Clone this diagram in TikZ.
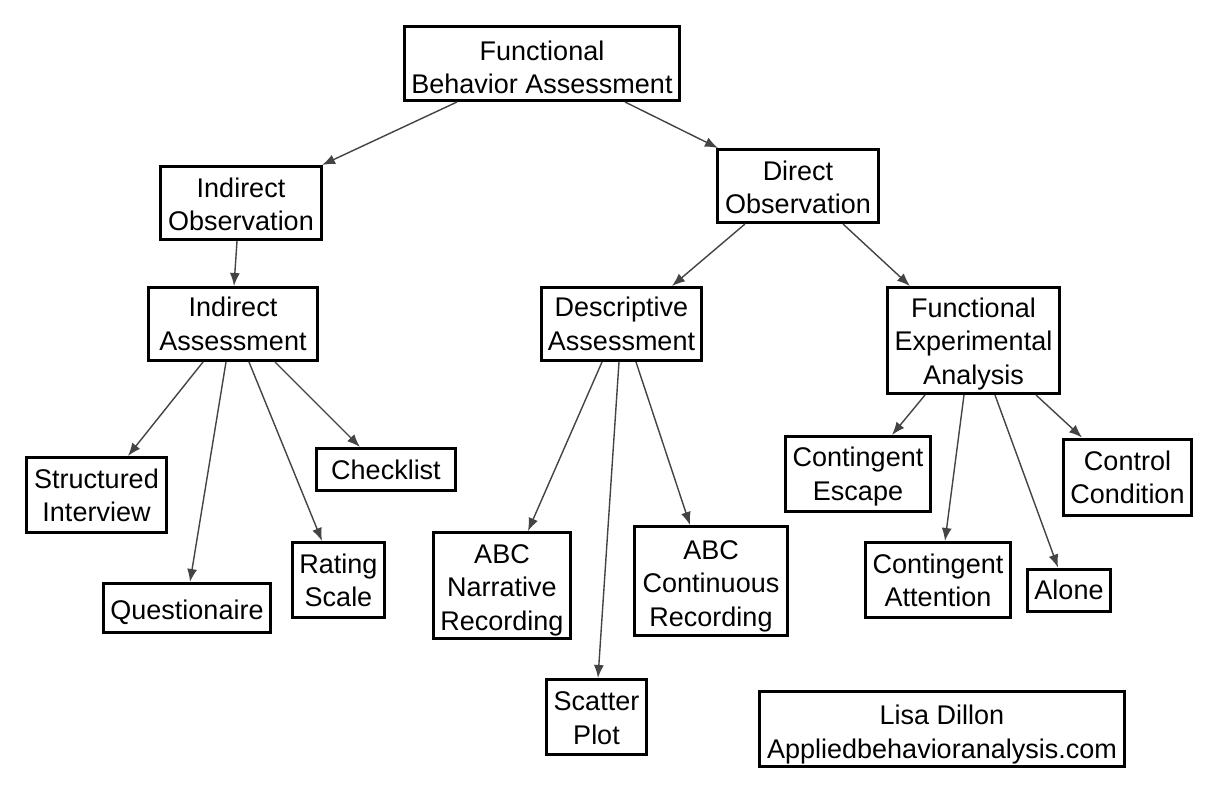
\documentclass[tikz,border=0pt]{standalone}
\usepackage{fontspec}
\setmainfont{Liberation Sans}
\usetikzlibrary{arrows.meta}
\definecolor{arrowgray}{HTML}{444444}
\newcommand\boxtext[2]{\smash{\raisebox{#1pt}{\begin{tabular}[b]{@{}c@{}}#2\end{tabular}}}}
\begin{document}
\begin{tikzpicture}[x=1pt,y=-1pt,
  box/.style={draw=black,line width=3pt,fill=white,inner sep=0pt,
    font=\fontsize{27}{33.3}\selectfont},
  arr/.style={draw=arrowgray,line width=1.4pt,-{Latex[length=13pt,width=10pt]}}]
\useasboundingbox[fill=white] (0,0) rectangle (1218,795);
\node[box,minimum width=275pt,minimum height=74pt] (fba) at (542,63.5) {\boxtext{-29.8}{Functional\\Behavior Assessment}};
\node[box,minimum width=161pt,minimum height=73pt] (io) at (241,203) {\boxtext{-27.7}{Indirect\\Observation}};
\node[box,minimum width=161pt,minimum height=73pt] (do) at (798,186) {\boxtext{-27.3}{Direct\\Observation}};
\node[box,minimum width=169pt,minimum height=73pt] (ia) at (233,324) {\boxtext{-26}{Indirect\\Assessment}};
\node[box,minimum width=160pt,minimum height=73pt] (da) at (621.5,324) {\boxtext{-26}{Descriptive\\Assessment}};
\node[box,minimum width=172pt,minimum height=106pt] (fea) at (973.5,340.5) {\boxtext{-43.5}{Functional\\Experimental\\Analysis}};
\node[box,minimum width=140pt,minimum height=75pt] (si) at (96.5,495) {\boxtext{-26.7}{Structured\\Interview}};
\node[box,minimum width=139pt,minimum height=42pt] (ck) at (386,469.5) {\boxtext{-9.5}{Checklist}};
\node[box,minimum width=167pt,minimum height=49pt] (q) at (187,608) {\boxtext{-11}{Questionaire}};
\node[box,minimum width=92pt,minimum height=75pt] (rs) at (338.5,580) {\boxtext{-26.7}{Rating\\Scale}};
\node[box,minimum width=137pt,minimum height=106pt] (abcn) at (502,585.5) {\boxtext{-44.5}{ABC\\Narrative\\Recording}};
\node[box,minimum width=100pt,minimum height=75pt] (sp) at (596.5,717) {\boxtext{-27}{Scatter\\Plot}};
\node[box,minimum width=153pt,minimum height=109pt] (abcc) at (711,581) {\boxtext{-45}{ABC\\Continuous\\Recording}};
\node[box,minimum width=145pt,minimum height=75pt] (ce) at (858,474) {\boxtext{-26}{Contingent\\Escape}};
\node[box,minimum width=128pt,minimum height=76pt] (cc) at (1127.5,477) {\boxtext{-26.3}{Control\\Condition}};
\node[box,minimum width=145pt,minimum height=75pt] (ca) at (938,580) {\boxtext{-26.7}{Contingent\\Attention}};
\node[box,minimum width=83pt,minimum height=42pt] (al) at (1069,590) {\boxtext{-9.5}{Alone}};
\node[box,minimum width=365pt,minimum height=75pt] (ld) at (942,729) {\boxtext{-29}{Lisa Dillon\\Appliedbehavioranalysis.com}};
\draw[arr] ([xshift=-85pt]fba.south) -- ([xshift=-1pt]io.north east);
\draw[arr] ([xshift=83pt]fba.south) -- ([xshift=2pt]do.north west);
\draw[arr] ([xshift=-4pt]io.south) -- ([xshift=1pt]ia.north);
\draw[arr] ([xshift=-53pt]do.south) -- ([xshift=50.5pt]da.north);
\draw[arr] ([xshift=45pt]do.south) -- ([xshift=-63.5pt]fea.north);
\draw[arr] ([xshift=-30pt]ia.south) -- ([xshift=31.5pt]si.north);
\draw[arr] ([xshift=-7pt]ia.south) -- ([xshift=3pt]q.north);
\draw[arr] ([xshift=16pt]ia.south) -- ([xshift=-16.5pt]rs.north);
\draw[arr] ([xshift=42pt]ia.south) -- ([xshift=-26pt]ck.north);
\draw[arr] ([xshift=-19.5pt]da.south) -- ([xshift=26pt]abcn.north);
\draw[arr] ([xshift=-2.5pt]da.south) -- ([xshift=1.5pt]sp.north);
\draw[arr] ([xshift=14.5pt]da.south) -- ([xshift=-21pt]abcc.north);
\draw[arr] ([xshift=-48.5pt]fea.south) -- ([xshift=34pt]ce.north);
\draw[arr] ([xshift=-9.5pt]fea.south) -- ([xshift=7pt]ca.north);
\draw[arr] ([xshift=21.5pt]fea.south) -- ([xshift=-11pt]al.north);
\draw[arr] ([xshift=62.5pt]fea.south) -- ([xshift=-45.5pt]cc.north);
\end{tikzpicture}
\end{document}
